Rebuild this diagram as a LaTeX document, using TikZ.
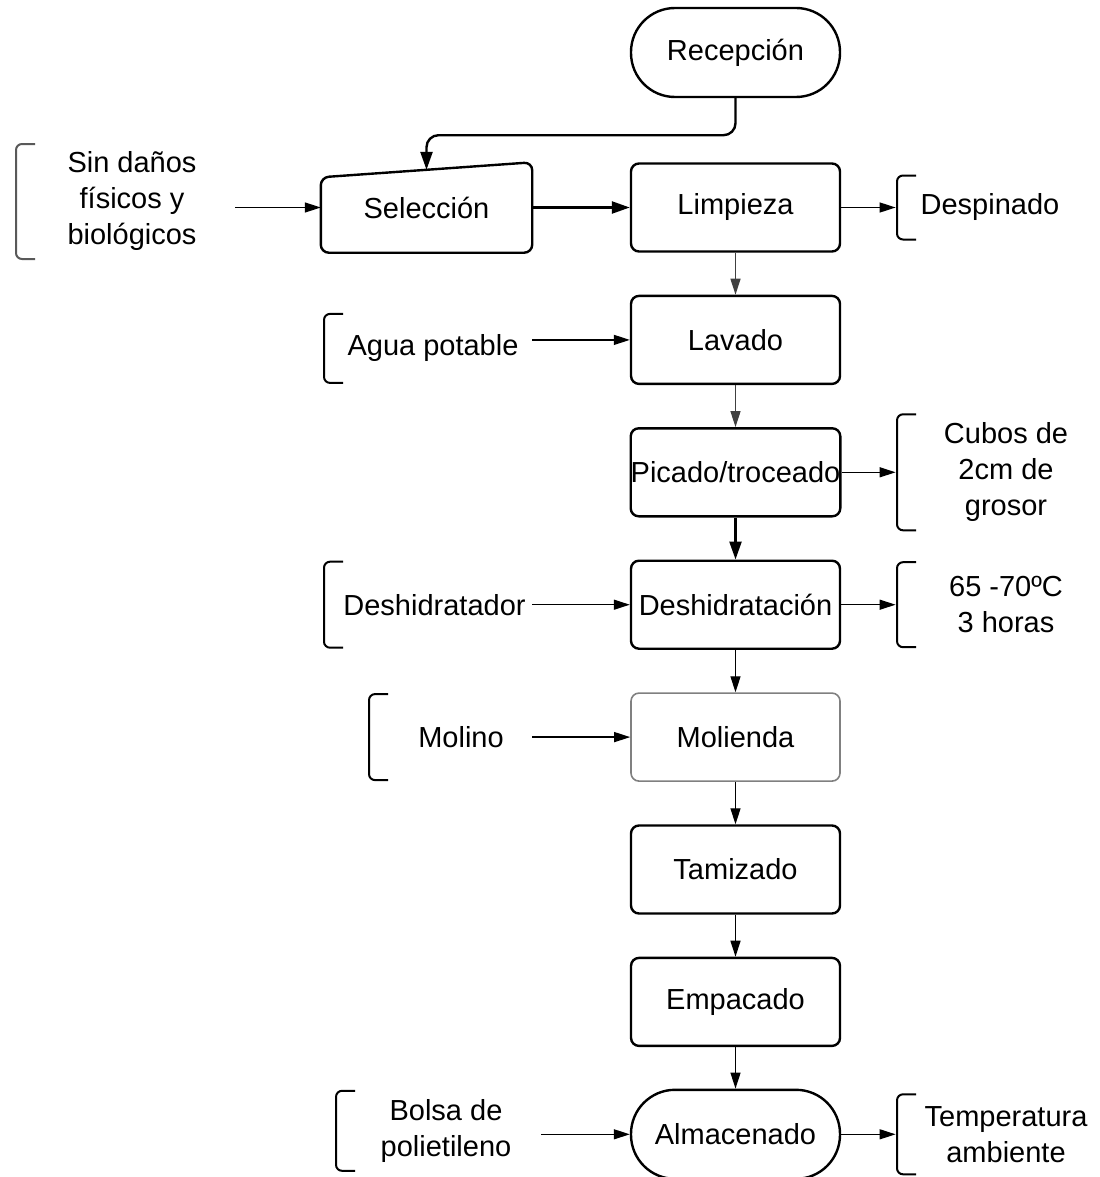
\documentclass[tikz,border=0pt]{standalone}
\usepackage{fontspec}
\setmainfont{Liberation Sans}
\usetikzlibrary{arrows.meta,positioning}

\begin{document}
\begin{tikzpicture}[>={Triangle[length=8pt,width=5pt]},node distance=66.2pt,
	font=\fontsize{14.5pt}{18pt}\selectfont,
	process/.style={draw,rounded corners=4pt,line width=1.2pt,minimum width=104.5pt,minimum height=44pt,inner sep=0pt},
	terminal/.style={process,rounded corners=22pt,minimum height=44.5pt},
	note/.style={align=center,inner sep=0pt,path picture={
		\draw[#1,line width=1pt,rounded corners=3pt]
		([xshift=10pt,yshift=-0.5pt]path picture bounding box.north west) --
		([xshift=0.5pt,yshift=-0.5pt]path picture bounding box.north west) --
		([xshift=0.5pt,yshift=0.5pt]path picture bounding box.south west) --
		([xshift=10pt,yshift=0.5pt]path picture bounding box.south west);}},
	note/.default=black,
	flow/.style={->,line width=0.65pt},
	heavy/.style={-{Triangle[length=9pt,width=6pt]},line width=1.2pt}]
	\useasboundingbox (0,0) rectangle (549.5pt,-588.5pt);
	
	\node[terminal]  (recepcion) at (367.75pt,-26.25pt) {Recepción};
	\node[process]   (limpieza) [below of=recepcion,node distance=77.5pt] {Limpieza};
	\node[process]   (lavado) [below of=limpieza] {Lavado};
	\node[process]   (picado) [below of=lavado] {Picado/troceado};
	\node[process]   (deshid) [below of=picado] {Deshidratación};
	\node[process,draw=black!50,line width=0.8pt] (molienda) [below of=deshid] {Molienda};
	\node[process]   (tamizado) [below of=molienda] {Tamizado};
	\node[process]   (empacado) [below of=tamizado] {Empacado};
	\node[terminal]  (almacenado) [below of=empacado] {Almacenado};
	\node[process,draw=none] (seleccion) [left of=limpieza,node distance=154.5pt] {Selección};
	\draw[line width=1.2pt,rounded corners=4pt] (seleccion.south) -- (seleccion.south west)
	-- ([yshift=-7.5pt]seleccion.north west) -- (seleccion.north east)
	-- (seleccion.south east) -- cycle;
	
	% entradas y salidas
	\node[note=black!65,minimum width=117pt,minimum height=58.5pt] (danos) [left of=seleccion,node distance=147.25pt,yshift=3pt] {Sin daños\\físicos y\\biológicos};
	\node[note,minimum width=94pt,minimum height=33pt] (despinado) [right of=limpieza,node distance=127.25pt] {Despinado};
	\node[note,minimum width=110pt,minimum height=35.5pt] (agua) [left of=lavado,node distance=151.25pt,yshift=-4.25pt] {Agua potable};
	\node[note,minimum width=110pt,minimum height=59pt] (cubos) [right of=picado,node distance=135.25pt] {Cubos de\\2cm de\\grosor};
	\node[note,minimum width=111.5pt,minimum height=44pt] (deshidratador) [left of=deshid,node distance=150.5pt] {Deshidratador};
	\node[note,minimum width=110pt,minimum height=43.5pt] (temperatura) [right of=deshid,node distance=135.25pt] {65 -70ºC\\3 horas};
	\node[note,minimum width=93pt,minimum height=44pt] (molino) [left of=molienda,node distance=137.25pt] {Molino};
	\node[note,minimum width=111pt,minimum height=41pt] (bolsa) [left of=almacenado,node distance=144.75pt,yshift=1.75pt] {Bolsa de\\polietileno};
	\node[note,minimum width=110pt,minimum height=41pt] (ambiente) [right of=almacenado,node distance=135.25pt] {Temperatura\\ambiente};
	
	\draw[heavy,rounded corners=6pt] (recepcion.south) -- ++(0,-18.5pt) -| ([yshift=-3.75pt]seleccion.north);
	\draw[heavy] (seleccion) -- (limpieza);
	\draw[flow,draw=black!75] (limpieza) -- (lavado);
	\draw[flow,draw=black!75] (lavado) -- (picado);
	\draw[heavy] (picado) -- (deshid);
	\draw[flow] (deshid) -- (molienda);
	\draw[flow] (molienda) -- (tamizado);
	\draw[flow] (tamizado) -- (empacado);
	\draw[flow] (empacado) -- (almacenado);
	
	\draw[flow,shorten <=-7pt] (danos.east |- seleccion) -- (seleccion);
	\draw[flow,shorten <=-5.5pt] (agua.east |- lavado) -- (lavado);
	\draw[flow,shorten <=-7pt] (deshidratador) -- (deshid);
	\draw[flow,shorten <=-11pt] (molino) -- (molienda);
	\draw[flow,shorten <=-8pt] (bolsa.east |- almacenado) -- (almacenado);
	
	\draw[flow] (limpieza) -- (despinado);
	\draw[flow] (picado) -- (cubos);
	\draw[flow] (deshid) -- (temperatura);
	\draw[flow] (almacenado) -- (ambiente);
\end{tikzpicture}
\end{document}
